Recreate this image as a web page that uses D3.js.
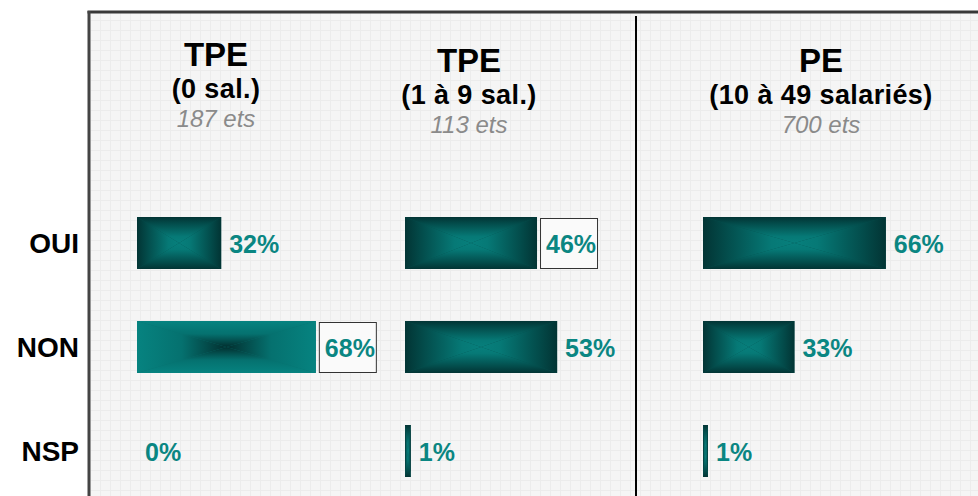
<!DOCTYPE html>
<html>
<head>
<meta charset="utf-8">
<script src="https://cdn.jsdelivr.net/npm/d3@7/dist/d3.min.js"></script>
<style>
  body { margin: 0; background: #fff; }
  svg { display: block; font-family: Arial, "Liberation Sans", sans-serif; }
</style>
</head>
<body>
<svg width="978" height="496"></svg>
<script>
// --- data ---
var categories = ["OUI", "NON", "NSP"];
var groupTitles = ["TPE", "TPE", "PE"];
var groupSubtitles = ["(0 sal.)", "(1 à 9 sal.)", "(10 à 49 salariés)"];
var groupCounts = ["187 ets", "113 ets", "700 ets"];
var tpe0Values = [32, 68, 0];
var tpe19Values = [46, 53, 2];
var peValues = [66, 33, 1.8];
var tpe0Labels = ["32%", "68%", "0%"];
var tpe19Labels = ["46%", "53%", "1%"];
var peLabels = ["66%", "33%", "1%"];

// --- layout ---
var width = 978, height = 496;
var panels = [
  { values: tpe0Values, labels: tpe0Labels, x0: 137, span: 263, cx: 216, top: 66 },
  { values: tpe19Values, labels: tpe19Labels, x0: 405, span: 287, cx: 469, top: 72 },
  { values: peValues, labels: peLabels, x0: 703, span: 277, cx: 821, top: 72 }
];
var boxed = { "0-1": true, "1-0": true };   // labels drawn in a frame
var inverted = { "0-1": true };             // light edges, dark centre
var teal = "#0a8682";

var svg = d3.select("svg");
var defs = svg.append("defs");

// grid paper background
var pat = defs.append("pattern")
    .attr("id", "grid")
    .attr("width", 10).attr("height", 10)
    .attr("patternUnits", "userSpaceOnUse");
pat.append("rect").attr("width", 10).attr("height", 10).attr("fill", "#f5f5f5");
pat.append("path").attr("d", "M0 0.5H10M0.5 0V10")
    .attr("stroke", "#ececec").attr("stroke-width", 1);

// rectangular "from centre" gradients, built from four linear ones
var dirs = {
  top: [0, 0, 0, 1], bottom: [0, 1, 0, 0],
  left: [0, 0, 1, 0], right: [1, 0, 0, 0]
};
var schemes = {
  dark: [[0, "#023434"], [0.25, "#034c4b"], [0.75, "#067976"], [1, "#077f7c"]],
  light: [[0, "#068380"], [0.5, "#05716f"], [1, "#022f2f"]]
};
Object.keys(schemes).forEach(function(s) {
  Object.keys(dirs).forEach(function(k) {
    var d = dirs[k];
    var g = defs.append("linearGradient")
        .attr("id", "g-" + s + "-" + k)
        .attr("x1", d[0]).attr("y1", d[1]).attr("x2", d[2]).attr("y2", d[3]);
    schemes[s].forEach(function(st) {
      g.append("stop").attr("offset", st[0]).attr("stop-color", st[1]);
    });
  });
});

svg.append("rect")
    .attr("x", 89).attr("y", 12)
    .attr("width", width - 89).attr("height", height - 12)
    .attr("fill", "url(#grid)");

svg.append("line")
    .attr("x1", 87.5).attr("x2", width).attr("y1", 12).attr("y2", 12)
    .attr("stroke", "#383838").attr("stroke-width", 3);
svg.append("line")
    .attr("x1", 89).attr("x2", 89).attr("y1", 11).attr("y2", height)
    .attr("stroke", "#444").attr("stroke-width", 3);
svg.append("line")
    .attr("x1", 636).attr("x2", 636).attr("y1", 16).attr("y2", height)
    .attr("stroke", "#000").attr("stroke-width", 2);

var y = d3.scaleBand()
    .domain(categories)
    .range([191, 503])
    .paddingInner(0.5)
    .paddingOuter(0.25);

// row labels
svg.append("g")
    .selectAll("text")
    .data(categories)
    .enter().append("text")
    .attr("x", 79)
    .attr("y", function(d) { return y(d) + y.bandwidth() / 2 + 10; })
    .attr("text-anchor", "end")
    .attr("font-size", 28)
    .attr("font-weight", "bold")
    .attr("fill", "#000")
    .text(function(d) { return d; });

panels.forEach(function(p, pi) {
  var x = d3.scaleLinear().domain([0, 100]).range([0, p.span]);
  var g = svg.append("g");

  // header
  g.append("text")
      .attr("x", p.cx).attr("y", p.top)
      .attr("text-anchor", "middle")
      .attr("font-size", 33).attr("font-weight", "bold")
      .text(groupTitles[pi]);
  g.append("text")
      .attr("x", p.cx).attr("y", p.top + 32)
      .attr("text-anchor", "middle")
      .attr("font-size", 27).attr("font-weight", "bold")
      .attr("letter-spacing", 0.4)
      .text(groupSubtitles[pi]);
  g.append("text")
      .attr("x", p.cx).attr("y", p.top + 61)
      .attr("text-anchor", "middle")
      .attr("font-size", 24).attr("font-style", "italic")
      .attr("fill", "#8a8a8a")
      .text(groupCounts[pi]);

  p.values.forEach(function(v, i) {
    var key = pi + "-" + i;
    var bx = p.x0, by = y(categories[i]);
    var bw = x(v), bh = y.bandwidth();
    var cx = bx + bw / 2, cy = by + bh / 2;
    var s = inverted[key] ? "light" : "dark";

    if (bw > 0) {
      g.append("rect")
          .attr("x", bx).attr("y", by).attr("width", bw).attr("height", bh)
          .attr("fill", schemes[s][1][1]);
      var tris = {
        top: [[bx, by], [bx + bw, by], [cx, cy]],
        bottom: [[bx, by + bh], [bx + bw, by + bh], [cx, cy]],
        left: [[bx, by], [bx, by + bh], [cx, cy]],
        right: [[bx + bw, by], [bx + bw, by + bh], [cx, cy]]
      };
      Object.keys(tris).forEach(function(k) {
        g.append("path")
            .attr("d", "M" + tris[k].join("L") + "Z")
            .attr("fill", "url(#g-" + s + "-" + k + ")");
      });
    }

    var lx = bx + bw + 8;
    if (boxed[key]) {
      g.append("rect")
          .attr("x", bx + bw + 3.5).attr("y", by + 1.5)
          .attr("width", 57).attr("height", bh - 2)
          .attr("fill", "#fafafa")
          .attr("stroke", "#333").attr("stroke-width", 1);
      lx = bx + bw + 9;
    }
    g.append("text")
        .attr("x", lx).attr("y", cy + 10)
        .attr("font-size", 25).attr("font-weight", "bold")
        .attr("fill", teal)
        .text(p.labels[i]);
  });
});
</script>
</body>
</html>
